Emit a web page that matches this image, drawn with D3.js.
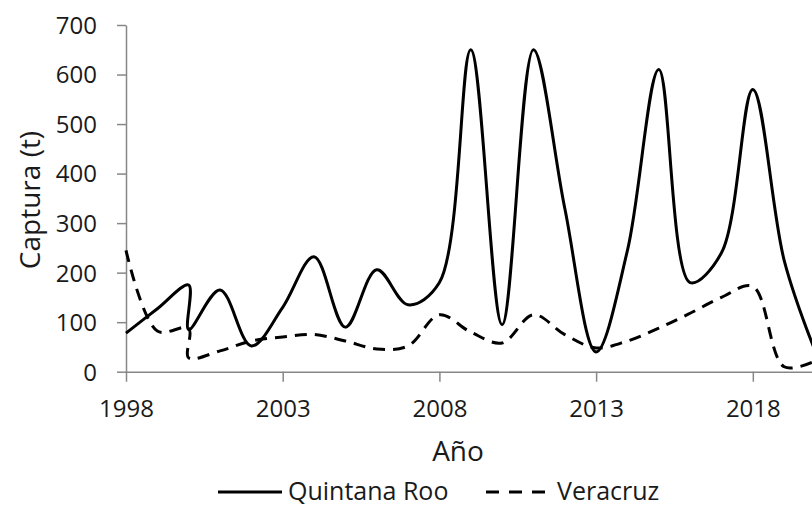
<!DOCTYPE html>
<html>
<head>
<meta charset="utf-8">
<script src="https://cdn.jsdelivr.net/npm/d3@7"></script>
<style>
  html, body { margin: 0; padding: 0; background: #fff; }
  svg { display: block; }
  text { font-family: "Open Sans", sans-serif; fill: #1a1a1a; }
</style>
</head>
<body>
<svg id="chart" width="812" height="506"></svg>
<script>
// ---- data ----
const years = [1998, 1999, 2000, 2000, 2001, 2002, 2003, 2004, 2005, 2006, 2007, 2008,
               2009, 2010, 2011, 2012, 2013, 2014, 2015, 2016, 2017, 2018, 2019, 2020];
const quintanaRoo = [78, 127, 175, 85, 165, 52, 130, 232, 90, 206, 135, 180,
                     650, 95, 650, 330, 40, 245, 610, 180, 240, 570, 225, 40];
const veracruz = [245, 82, 88, 28, 42, 62, 70, 75, 62, 46, 52, 115,
                  80, 58, 115, 75, 48, 62, 88, 118, 150, 172, 10, 22];
const xTicks = [1998, 2003, 2008, 2013, 2018];
const yTicks = [0, 100, 200, 300, 400, 500, 600, 700];
const seriesNames = ["Quintana Roo", "Veracruz"];
const xTitle = "Año";
const yTitle = "Captura (t)";

// ---- layout ----
const svg = d3.select("#chart");
const x = d3.scaleLinear().domain([1998, 2020]).range([126, 815.5]);
const y = d3.scaleLinear().domain([0, 700]).range([371.7, 25]);
const axisColor = "#878787";

// y axis
const gy = svg.append("g").attr("transform", `translate(${x(1998)},0)`)
  .call(d3.axisLeft(y).tickValues(yTicks).tickSize(9).tickSizeOuter(0).tickPadding(20));
gy.select(".domain").attr("stroke", axisColor).attr("stroke-width", 1.5);
gy.selectAll(".tick line").attr("stroke", axisColor).attr("stroke-width", 1.5);
gy.selectAll(".tick text").style("font-size", "24px").attr("fill", "#1a1a1a").attr("dy", "0.35em");

// x axis
const gx = svg.append("g").attr("transform", `translate(0,${y(0)})`)
  .call(d3.axisBottom(x).tickValues(xTicks).tickFormat(d3.format("d")).tickSize(10).tickSizeOuter(0));
gx.select(".domain").attr("stroke", axisColor).attr("stroke-width", 1.5);
gx.selectAll(".tick line").attr("stroke", axisColor).attr("stroke-width", 1.5);
gx.selectAll(".tick text").style("font-size", "24px").attr("fill", "#1a1a1a")
  .attr("y", 45).attr("dy", 0);

// lines
const pts = vals => years.map((yr, i) => [yr, vals[i]]);
const line = d3.line().x(d => x(d[0])).y(d => y(d[1])).curve(d3.curveCatmullRom.alpha(0.5));

svg.append("path").datum(pts(veracruz)).attr("d", line)
  .attr("fill", "none").attr("stroke", "#000").attr("stroke-width", 3)
  .attr("stroke-dasharray", "12,8");
svg.append("path").datum(pts(quintanaRoo)).attr("d", line)
  .attr("fill", "none").attr("stroke", "#000").attr("stroke-width", 3);

// axis titles
svg.append("text").attr("x", 458).attr("y", 461).attr("text-anchor", "middle")
  .style("font-size", "28px").text(xTitle);
svg.append("text").attr("transform", "translate(40,200) rotate(-90)").attr("text-anchor", "middle")
  .style("font-size", "28px").text(yTitle);

// legend
const lg = svg.append("g");
lg.append("line").attr("x1", 218).attr("x2", 282).attr("y1", 492).attr("y2", 492)
  .attr("stroke", "#000").attr("stroke-width", 3);
lg.append("text").attr("x", 288).attr("y", 500).style("font-size", "25px").text(seriesNames[0]);
lg.append("line").attr("x1", 486).attr("x2", 546).attr("y1", 492).attr("y2", 492)
  .attr("stroke", "#000").attr("stroke-width", 3).attr("stroke-dasharray", "13,10");
lg.append("text").attr("x", 557).attr("y", 500).style("font-size", "25px").text(seriesNames[1]);
</script>
</body>
</html>
